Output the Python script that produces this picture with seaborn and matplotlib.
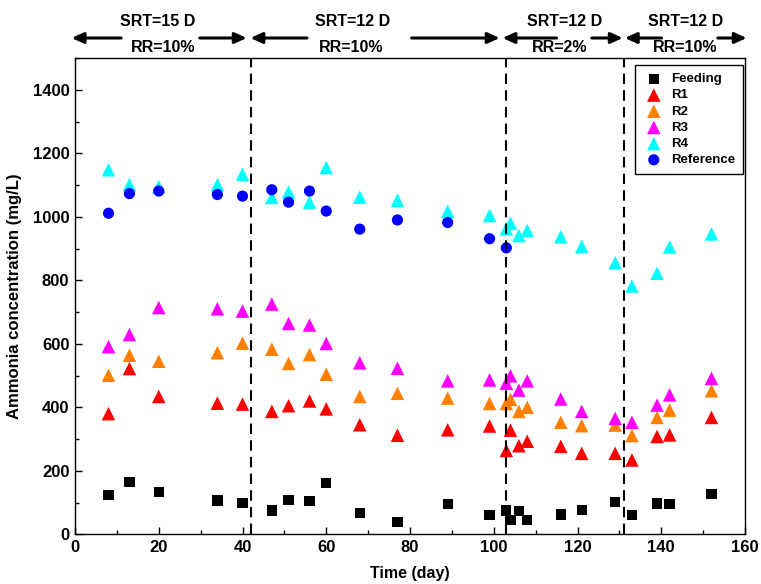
import numpy as np
import pandas as pd
import matplotlib
matplotlib.use('Agg')
import matplotlib.pyplot as plt
from matplotlib.ticker import MultipleLocator
import seaborn as sns

# ---------------- data ----------------
days = [8, 13, 20, 34, 40, 47, 51, 56, 60, 68, 77, 89, 99, 103, 104, 106, 108,
        116, 121, 129, 133, 139, 142, 152]
feeding = [123, 165, 133, 106, 98, 75, 107, 104, 161, 67, 38, 96, 61, 75, 44, 74, 44,
           62, 77, 101, 61, 97, 96, 127]
r1 = [380, 522, 434, 413, 410, 387, 405, 420, 395, 345, 312, 329, 341, 264, 328, 279, 293,
      277, 255, 255, 234, 308, 313, 368]
r2 = [501, 564, 545, 572, 602, 583, 538, 566, 504, 434, 444, 429, 412, 412, 425, 387, 400,
      353, 342, 344, 311, 368, 391, 452]
r3 = [591, 629, 714, 710, 703, 725, 664, 659, 601, 540, 523, 483, 486, 476, 499, 454, 483,
      426, 387, 365, 353, 407, 439, 491]
r4 = [1148, 1101, 1095, 1101, 1134, 1061, 1078, 1046, 1155, 1062, 1052, 1017, 1004, 962, 980,
      941, 957, 937, 907, 855, 782, 822, 905, 946]
ref_days = [8, 13, 20, 34, 40, 47, 51, 56, 60, 68, 77, 89, 99, 103]
reference = [1011, 1073, 1081, 1070, 1065, 1085, 1046, 1081, 1018, 961, 990, 982, 931, 902]

phase_lines = [42, 103, 131]
srt_labels = ['SRT=15 D', 'SRT=12 D', 'SRT=12 D', 'SRT=12 D']
rr_labels = ['RR=10%', 'RR=10%', 'RR=2%', 'RR=10%']

# annotation positions (day units)
srt_x = [19.8, 66.3, 117.0, 145.8]
rr_x = [21.0, 65.9, 115.8, 145.6]
left_arrows = [(11.0, -0.8), (55.4, 41.9), (115.0, 102.1), (140.1, 131.3)]
right_arrows = [(29.8, 41.0), (80.4, 101.4), (123.4, 130.8), (153.5, 160.4)]

# ---------------- style ----------------
sns.set_style('ticks')
plt.rcParams['font.family'] = ['Liberation Sans', 'DejaVu Sans']
plt.rcParams['font.weight'] = 'bold'
plt.rcParams['axes.labelweight'] = 'bold'
for key in ['text.color', 'axes.labelcolor', 'xtick.color', 'ytick.color', 'axes.edgecolor']:
    plt.rcParams[key] = 'black'

W, H = 761, 584
fig = plt.figure(figsize=(W / 100, H / 100), dpi=100)
ax = fig.add_axes([75 / W, 1 - 534.3 / H, 670 / W, 476.3 / H])

series = [
    ('Feeding', days, feeding, 'black', 's', 55),
    ('R1', days, r1, '#FF0000', '^', 95),
    ('R2', days, r2, '#FF8000', '^', 95),
    ('R3', days, r3, '#FF00FF', '^', 95),
    ('R4', days, r4, '#00FFFF', '^', 95),
    ('Reference', ref_days, reference, '#0000FF', 'o', 65),
]
for i, (name, xd, yd, col, mk, sz) in enumerate(series):
    df = pd.DataFrame({'day': xd, 'value': yd})
    sns.scatterplot(data=df, x='day', y='value', color=col, marker=mk, s=sz,
                    linewidth=0, edgecolor='none', label=name, ax=ax, zorder=3 + i * 0.1)

for xv in phase_lines:
    ax.axvline(xv, color='black', ls=(0, (5, 3)), lw=1.5, zorder=5)

ax.set_xlim(0, 160)
ax.set_ylim(0, 1500)
ax.xaxis.set_major_locator(MultipleLocator(20))
ax.xaxis.set_minor_locator(MultipleLocator(10))
ax.yaxis.set_major_locator(MultipleLocator(200))
ax.yaxis.set_minor_locator(MultipleLocator(100))
ax.tick_params(which='both', direction='in', top=False, right=False, colors='black')
ax.tick_params(which='major', length=5, width=1, labelsize=12, pad=4)
ax.tick_params(which='minor', length=3, width=1)
for lab in ax.get_xticklabels() + ax.get_yticklabels():
    lab.set_fontweight('bold')
for sp in ax.spines.values():
    sp.set_visible(True)
    sp.set_color('black')
    sp.set_linewidth(1.0)

ax.set_xlabel('Time (day)', fontsize=11.5, fontweight='bold', labelpad=8)
ax.set_ylabel('Ammonia concentration (mg/L)', fontsize=12, fontweight='bold', labelpad=8)

leg = ax.legend(loc='upper right', bbox_to_anchor=(0.997, 0.985), borderaxespad=0,
                frameon=True, fancybox=False, edgecolor='black', framealpha=1,
                prop={'weight': 'bold', 'size': 9.5}, labelspacing=0.3,
                handletextpad=0.5, borderpad=0.6, handlelength=1.6)
leg.get_frame().set_linewidth(1.0)

# top annotations
trans = ax.get_xaxis_transform()
for x, t in zip(srt_x, srt_labels):
    ax.text(x, 1.076, t, transform=trans, ha='center', va='center',
            fontsize=11.5, fontweight='bold', clip_on=False)
for x, t in zip(rr_x, rr_labels):
    ax.text(x, 1.021, t, transform=trans, ha='center', va='center',
            fontsize=11.5, fontweight='bold', clip_on=False)
for (x0, x1) in left_arrows + right_arrows:
    ax.annotate('', xy=(x1, 1.042), xytext=(x0, 1.042), xycoords=trans, textcoords=trans,
                arrowprops=dict(arrowstyle='-|>,head_length=0.7,head_width=0.32', lw=2.2,
                                color='black', shrinkA=0, shrinkB=0),
                annotation_clip=False)

fig.savefig('out.png', dpi=100)
